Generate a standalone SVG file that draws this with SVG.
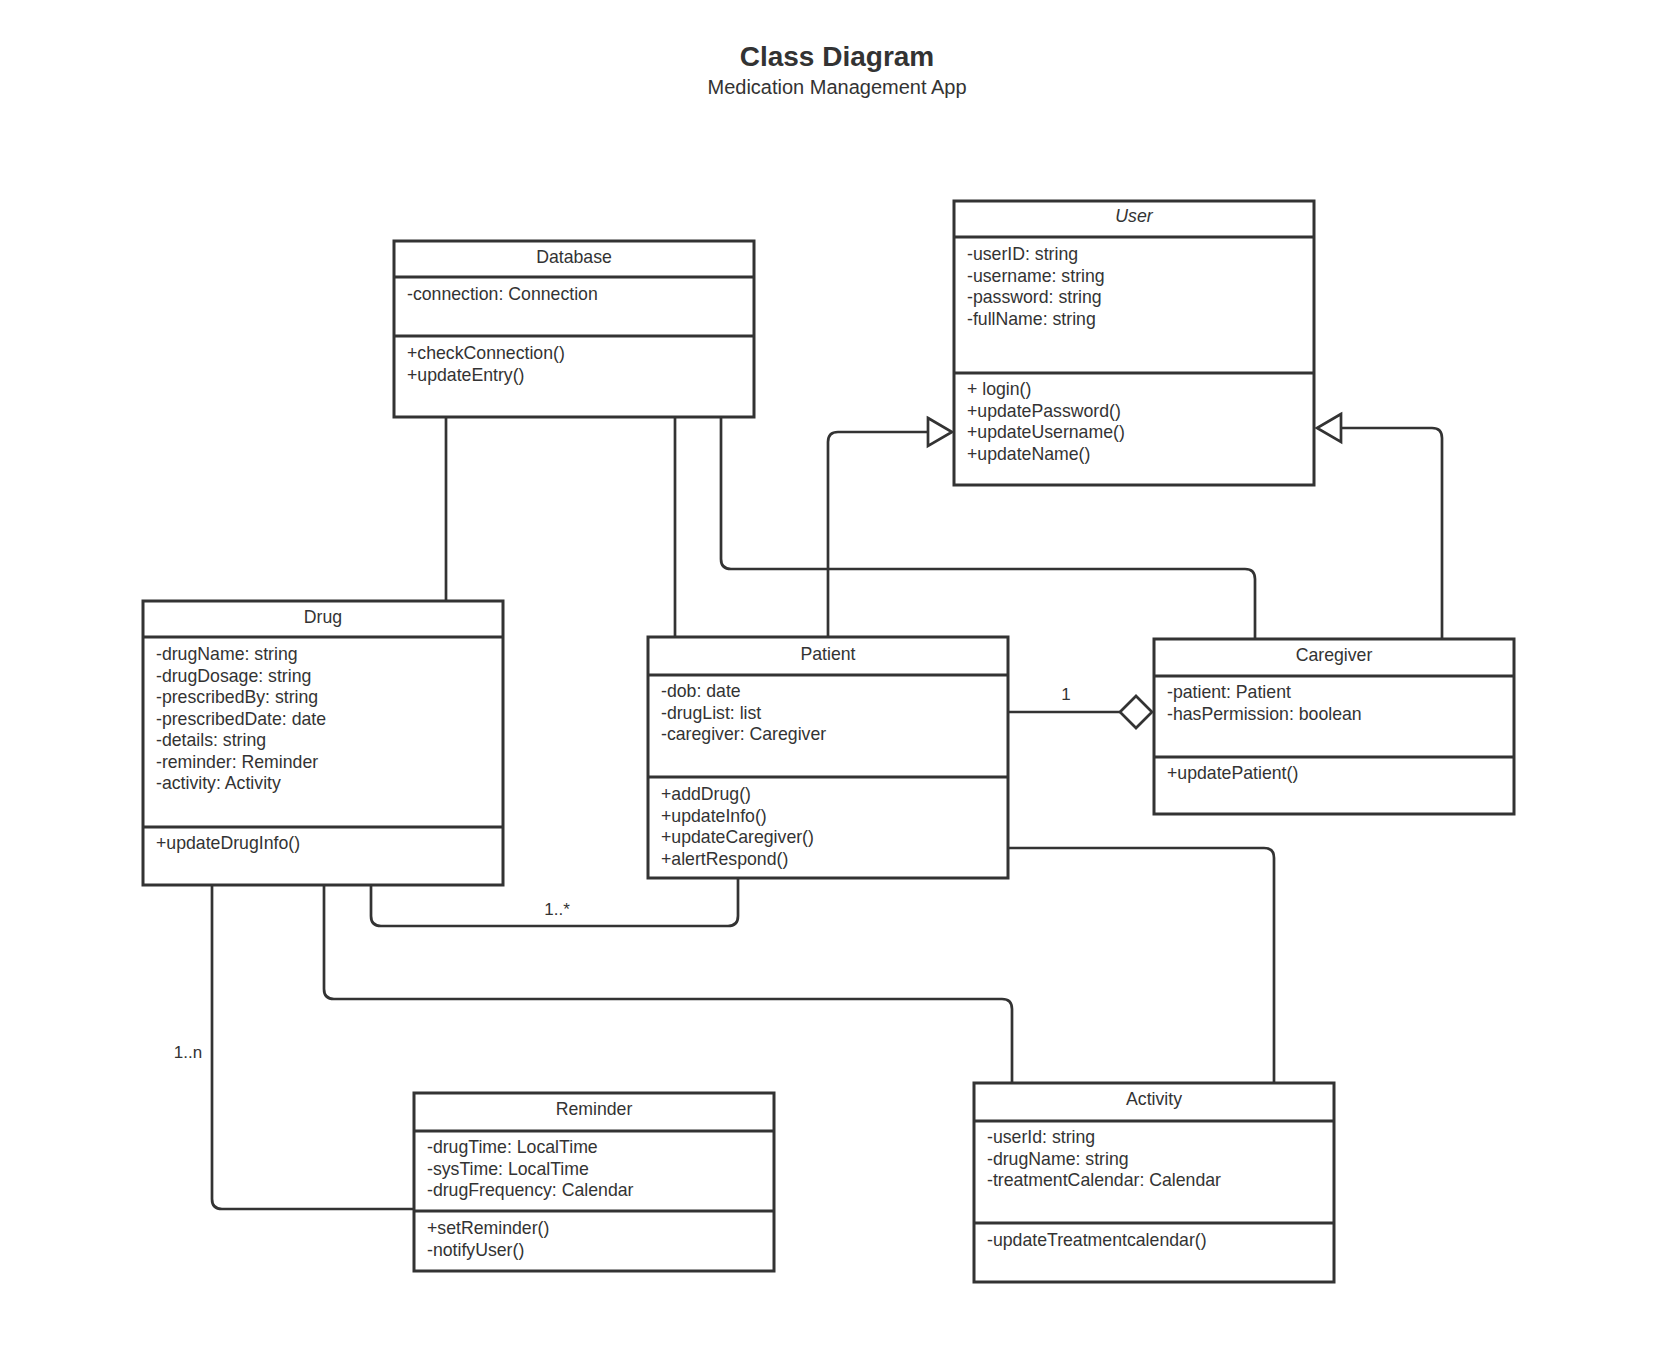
<svg xmlns="http://www.w3.org/2000/svg" width="1674" height="1360" viewBox="0 0 1674 1360">
<style>
.box{fill:#ffffff;stroke:#333333;stroke-width:3}
.div{stroke:#333333;stroke-width:3}
.t{font-family:"Liberation Sans",Arial,sans-serif;font-size:17.7px;fill:#333333}
.h{text-anchor:middle}
.c{fill:none;stroke:#333333;stroke-width:2.7}
.head{fill:#ffffff;stroke:#333333;stroke-width:2.7}
.lbl{font-family:"Liberation Sans",Arial,sans-serif;font-size:17px;fill:#333333;text-anchor:middle}
</style>
<rect width="1674" height="1360" fill="#ffffff"/>
<text x="837" y="66" font-family="Liberation Sans,Arial,sans-serif" font-size="28" font-weight="bold" fill="#333333" text-anchor="middle">Class Diagram</text>
<text x="837" y="94" font-family="Liberation Sans,Arial,sans-serif" font-size="20" fill="#333333" text-anchor="middle">Medication Management App</text>

<g id="connectors">
<path class="c" d="M446,417 V601"/>
<path class="c" d="M675,417 V637"/>
<path class="c" d="M721,417 V559 Q721,569 731,569 H1245 Q1255,569 1255,579 V639"/>
<path class="c" d="M828,637 V442 Q828,432 838,432 H928"/>
<polygon class="head" points="928,418 952,432 928,446"/>
<path class="c" d="M1442,639 V438 Q1442,428 1432,428 H1341"/>
<polygon class="head" points="1341,414 1317,428 1341,442"/>
<path class="c" d="M1009,712 H1120"/>
<polygon class="head" points="1120,712 1136,696 1152,712 1136,728"/>
<path class="c" d="M1009,848 H1264 Q1274,848 1274,858 V1083"/>
<path class="c" d="M371,885 V916 Q371,926 381,926 H728 Q738,926 738,916 V879"/>
<path class="c" d="M324,885 V989 Q324,999 334,999 H1002 Q1012,999 1012,1009 V1083"/>
<path class="c" d="M212,885 V1199 Q212,1209 222,1209 H414"/>
<text class="lbl" x="1066" y="700">1</text>
<text class="lbl" x="557" y="915">1..*</text>
<text class="lbl" x="188" y="1058">1..n</text>
</g>

<g id="database">
<rect class="box" x="394" y="241" width="360" height="176"/>
<line class="div" x1="394" y1="277" x2="754" y2="277"/>
<line class="div" x1="394" y1="336" x2="754" y2="336"/>
<text class="t h" x="574" y="263">Database</text>
<text class="t" x="407" y="300">-connection: Connection</text>
<text class="t" x="407" y="359">+checkConnection()</text>
<text class="t" x="407" y="380.5">+updateEntry()</text>
</g>

<g id="user">
<rect class="box" x="954" y="201" width="360" height="284"/>
<line class="div" x1="954" y1="237" x2="1314" y2="237"/>
<line class="div" x1="954" y1="373" x2="1314" y2="373"/>
<text class="t h" x="1134" y="222" font-style="italic">User</text>
<text class="t" x="967" y="260">-userID: string</text>
<text class="t" x="967" y="281.5">-username: string</text>
<text class="t" x="967" y="303">-password: string</text>
<text class="t" x="967" y="324.5">-fullName: string</text>
<text class="t" x="967" y="395">+ login()</text>
<text class="t" x="967" y="416.5">+updatePassword()</text>
<text class="t" x="967" y="438">+updateUsername()</text>
<text class="t" x="967" y="459.5">+updateName()</text>
</g>

<g id="drug">
<rect class="box" x="143" y="601" width="360" height="284"/>
<line class="div" x1="143" y1="637" x2="503" y2="637"/>
<line class="div" x1="143" y1="827" x2="503" y2="827"/>
<text class="t h" x="323" y="623">Drug</text>
<text class="t" x="156" y="660">-drugName: string</text>
<text class="t" x="156" y="681.5">-drugDosage: string</text>
<text class="t" x="156" y="703">-prescribedBy: string</text>
<text class="t" x="156" y="724.5">-prescribedDate: date</text>
<text class="t" x="156" y="746">-details: string</text>
<text class="t" x="156" y="767.5">-reminder: Reminder</text>
<text class="t" x="156" y="789">-activity: Activity</text>
<text class="t" x="156" y="849">+updateDrugInfo()</text>
</g>

<g id="patient">
<rect class="box" x="648" y="637" width="360" height="241"/>
<line class="div" x1="648" y1="675" x2="1008" y2="675"/>
<line class="div" x1="648" y1="777" x2="1008" y2="777"/>
<text class="t h" x="828" y="660">Patient</text>
<text class="t" x="661" y="697">-dob: date</text>
<text class="t" x="661" y="718.5">-drugList: list</text>
<text class="t" x="661" y="740">-caregiver: Caregiver</text>
<text class="t" x="661" y="800">+addDrug()</text>
<text class="t" x="661" y="821.5">+updateInfo()</text>
<text class="t" x="661" y="843">+updateCaregiver()</text>
<text class="t" x="661" y="864.5">+alertRespond()</text>
</g>

<g id="caregiver">
<rect class="box" x="1154" y="639" width="360" height="175"/>
<line class="div" x1="1154" y1="676" x2="1514" y2="676"/>
<line class="div" x1="1154" y1="757" x2="1514" y2="757"/>
<text class="t h" x="1334" y="661">Caregiver</text>
<text class="t" x="1167" y="698">-patient: Patient</text>
<text class="t" x="1167" y="719.5">-hasPermission: boolean</text>
<text class="t" x="1167" y="779">+updatePatient()</text>
</g>

<g id="reminder">
<rect class="box" x="414" y="1093" width="360" height="178"/>
<line class="div" x1="414" y1="1131" x2="774" y2="1131"/>
<line class="div" x1="414" y1="1211" x2="774" y2="1211"/>
<text class="t h" x="594" y="1115">Reminder</text>
<text class="t" x="427" y="1153">-drugTime: LocalTime</text>
<text class="t" x="427" y="1174.5">-sysTime: LocalTime</text>
<text class="t" x="427" y="1196">-drugFrequency: Calendar</text>
<text class="t" x="427" y="1234">+setReminder()</text>
<text class="t" x="427" y="1255.5">-notifyUser()</text>
</g>

<g id="activity">
<rect class="box" x="974" y="1083" width="360" height="199"/>
<line class="div" x1="974" y1="1121" x2="1334" y2="1121"/>
<line class="div" x1="974" y1="1223" x2="1334" y2="1223"/>
<text class="t h" x="1154" y="1105">Activity</text>
<text class="t" x="987" y="1143">-userId: string</text>
<text class="t" x="987" y="1164.5">-drugName: string</text>
<text class="t" x="987" y="1186">-treatmentCalendar: Calendar</text>
<text class="t" x="987" y="1246">-updateTreatmentcalendar()</text>
</g>
</svg>
